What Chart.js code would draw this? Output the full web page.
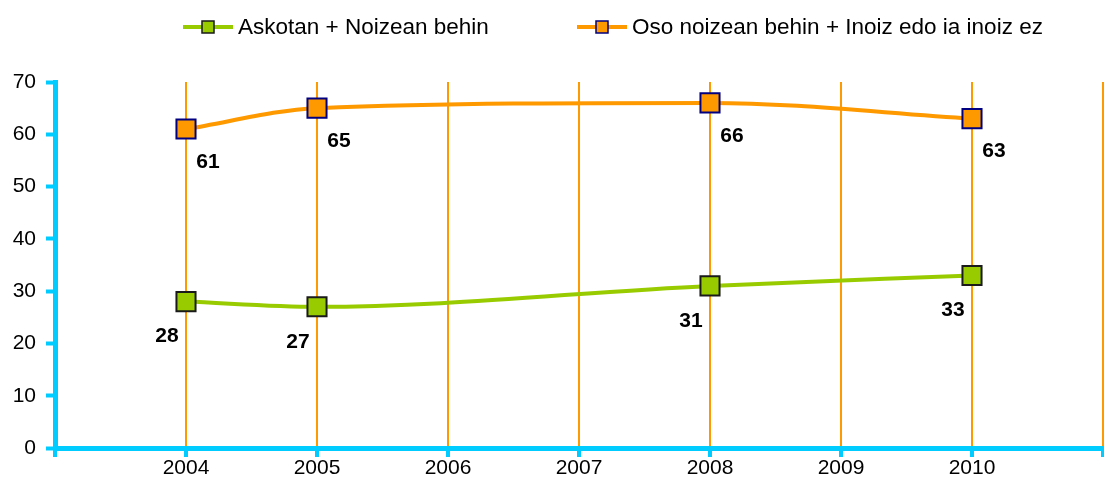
<!DOCTYPE html>
<html>
<head>
<meta charset="utf-8">
<script src="https://cdn.jsdelivr.net/npm/chart.js@4/dist/chart.umd.min.js"></script>
<style>
  html, body { margin: 0; padding: 0; background: #ffffff; }
  #wrap { width: 1104px; height: 488px; position: relative; }
</style>
</head>
<body>
<div id="wrap"><canvas id="c" width="1104" height="488"></canvas></div>
<script>
// ---- data ----
const years = [2004, 2005, 2008, 2010];
const askotanNoizean = [28, 27, 31, 33];
const osoInoiz = [61, 65, 66, 63];
const seriesNames = ['Askotan + Noizean behin', 'Oso noizean behin + Inoiz edo ia inoiz ez'];
const xTickLabels = ['2004', '2005', '2006', '2007', '2008', '2009', '2010'];
const yTickValues = [0, 10, 20, 30, 40, 50, 60, 70];

const FONT = '"Liberation Sans", Arial, sans-serif';
const CYAN = '#00CCFF';
const ORANGE = '#FF9900';
const GREEN = '#99CC00';

const toPoints = (xs, ys) => xs.map((x, i) => ({ x: x, y: ys[i] }));

const labelPlugin = {
  id: 'pointLabels',
  afterDatasetsDraw(chart) {
    const ctx = chart.ctx;
    ctx.save();
    ctx.font = 'bold 21px ' + FONT;
    ctx.fillStyle = '#000000';
    ctx.textAlign = 'center';
    ctx.textBaseline = 'middle';
    chart.data.datasets.forEach((ds, di) => {
      const meta = chart.getDatasetMeta(di);
      meta.data.forEach((el, i) => {
        const off = ds.labelOffset;
        ctx.fillText(String(ds.data[i].y), el.x + off[0], el.y + off[1]);
      });
    });
    ctx.restore();
  }
};

const legendPlugin = {
  id: 'customLegend',
  afterDraw(chart) {
    const ctx = chart.ctx;
    const items = [
      { x: 183, ds: chart.data.datasets[0] },
      { x: 577, ds: chart.data.datasets[1] }
    ];
    const cy = 27;
    ctx.save();
    items.forEach(it => {
      ctx.strokeStyle = it.ds.borderColor;
      ctx.lineWidth = 4;
      ctx.beginPath();
      ctx.moveTo(it.x, cy);
      ctx.lineTo(it.x + 50, cy);
      ctx.stroke();
      ctx.fillStyle = it.ds.pointBackgroundColor;
      ctx.strokeStyle = it.ds.pointBorderColor;
      ctx.lineWidth = 1.5;
      ctx.fillRect(it.x + 19, cy - 6, 12, 12);
      ctx.strokeRect(it.x + 19, cy - 6, 12, 12);
      ctx.fillStyle = '#000000';
      ctx.font = '22.5px ' + FONT;
      ctx.textAlign = 'left';
      ctx.textBaseline = 'middle';
      ctx.fillText(it.ds.label, it.x + 55, cy + 1);
    });
    ctx.restore();
  }
};

new Chart(document.getElementById('c'), {
  type: 'line',
  data: {
    datasets: [
      {
        label: seriesNames[0],
        data: toPoints(years, askotanNoizean),
        borderColor: GREEN,
        borderWidth: 4,
        pointStyle: 'rect',
        pointRadius: 13.5,
        pointHoverRadius: 13.5,
        pointBackgroundColor: GREEN,
        pointBorderColor: '#1a1a1a',
        pointBorderWidth: 2,
        cubicInterpolationMode: 'monotone',
        fill: false,
        labelOffset: [-19, 35]
      },
      {
        label: seriesNames[1],
        data: toPoints(years, osoInoiz),
        borderColor: ORANGE,
        borderWidth: 4,
        pointStyle: 'rect',
        pointRadius: 13.5,
        pointHoverRadius: 13.5,
        pointBackgroundColor: ORANGE,
        pointBorderColor: '#000080',
        pointBorderWidth: 2,
        cubicInterpolationMode: 'monotone',
        fill: false,
        labelOffset: [22, 33]
      }
    ]
  },
  options: {
    responsive: false,
    animation: false,
    layout: { autoPadding: false, padding: { top: 82, right: 1, left: 0, bottom: 0 } },
    plugins: {
      legend: { display: false },
      tooltip: { enabled: false }
    },
    scales: {
      x: {
        type: 'linear',
        min: 2003,
        max: 2011,
        afterFit(scale) {
          scale.height = 40;
          scale.paddingRight = 0;
          scale.paddingLeft = 0;
        },
        afterBuildTicks(scale) {
          const t = [];
          for (let v = 2003; v <= 2011; v++) t.push({ value: v });
          scale.ticks = t;
        },
        ticks: {
          autoSkip: false,
          maxRotation: 0,
          padding: -1,
          color: '#000000',
          font: { family: FONT, size: 21 },
          callback: (v) => xTickLabels.includes(String(v)) ? String(v) : ''
        },
        grid: {
          color: (ctx) => (ctx.tick && ctx.tick.value === 2003) ? 'rgba(0,0,0,0)' : ORANGE,
          lineWidth: 2,
          drawTicks: true,
          tickLength: 9,
          tickColor: CYAN,
          tickWidth: 4
        },
        border: { color: CYAN, width: 5 }
      },
      y: {
        min: 0,
        max: 70,
        afterFit(scale) {
          scale.width = 55;
          scale.paddingTop = 0;
          scale.paddingBottom = 0;
        },
        afterBuildTicks(scale) {
          scale.ticks = yTickValues.map(v => ({ value: v }));
        },
        ticks: {
          padding: 10,
          color: '#000000',
          font: { family: FONT, size: 21 }
        },
        grid: {
          drawOnChartArea: false,
          drawTicks: true,
          tickLength: 9,
          tickColor: CYAN,
          tickWidth: 4
        },
        border: { color: CYAN, width: 5 }
      }
    }
  },
  plugins: [labelPlugin, legendPlugin]
});
</script>
</body>
</html>
